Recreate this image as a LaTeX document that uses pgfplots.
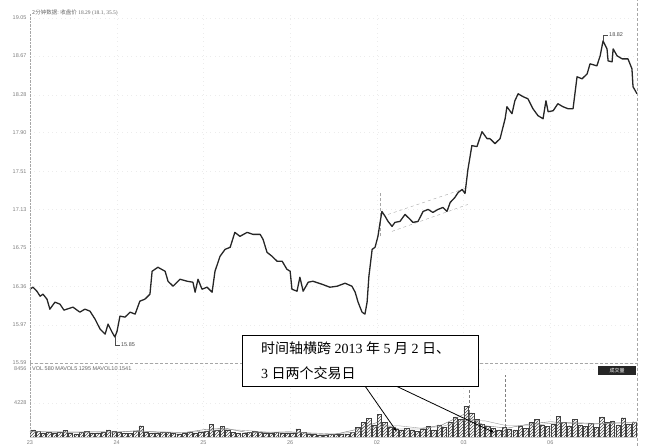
\documentclass[border=0pt]{standalone}
\usepackage{fontspec}
\setmainfont{Liberation Serif}
\setsansfont{Liberation Sans}
\newfontfamily\cjk{Noto Sans CJK SC}
\usepackage{pgfplots}
\pgfplotsset{compat=1.18}
\usetikzlibrary{arrows.meta,patterns}

% minute index (240 per trading day), price
\pgfplotstableread{
m price
0 16.33
8 16.35
19 16.31
28 16.26
36 16.28
47 16.23
55 16.13
69 16.20
83 16.18
94 16.12
102 16.13
119 16.15
138 16.10
152 16.13
166 16.11
180 16.03
194 15.93
208 15.88
216 15.98
227 15.90
235 15.85
241 15.91
249 16.06
263 16.05
277 16.10
291 16.08
304 16.21
318 16.23
332 16.28
338 16.51
346 16.53
354 16.55
374 16.51
382 16.41
396 16.36
415 16.43
435 16.41
451 16.40
457 16.30
465 16.43
476 16.33
490 16.35
504 16.30
512 16.51
526 16.66
540 16.73
554 16.75
567 16.90
581 16.86
601 16.90
617 16.88
637 16.88
645 16.83
656 16.70
670 16.66
684 16.61
698 16.61
711 16.53
720 16.51
725 16.33
739 16.31
747 16.45
756 16.31
770 16.40
783 16.41
808 16.38
830 16.35
850 16.36
872 16.39
891 16.36
900 16.30
908 16.20
919 16.10
927 16.08
933 16.20
938 16.46
947 16.73
955 16.75
963 16.86
969 17.00
974 17.11
983 17.06
991 17.01
1002 16.96
1010 17.00
1024 17.01
1038 17.08
1052 17.03
1060 17.00
1074 17.01
1088 17.11
1102 17.13
1115 17.10
1129 17.13
1143 17.15
1154 17.11
1163 17.20
1176 17.25
1185 17.30
1196 17.33
1204 17.29
1212 17.53
1223 17.77
1237 17.76
1251 17.91
1265 17.84
1273 17.84
1287 17.79
1301 17.84
1315 18.04
1320 18.16
1334 18.09
1342 18.22
1351 18.29
1365 18.26
1378 18.24
1392 18.14
1406 18.07
1420 18.04
1428 18.22
1434 18.11
1448 18.12
1461 18.19
1475 18.16
1489 18.14
1503 18.14
1514 18.46
1528 18.44
1542 18.49
1550 18.59
1569 18.57
1578 18.67
1586 18.82
1597 18.74
1600 18.62
1611 18.61
1614 18.74
1625 18.67
1639 18.64
1655 18.64
1666 18.54
1669 18.36
1680 18.29
}\pricedata

% volume per 15 minutes
\pgfplotstableread{
m vol
7 900
22 700
37 500
52 650
67 450
82 600
97 800
112 500
127 400
142 550
157 700
172 450
187 500
202 600
217 900
232 700
247 600
262 500
277 450
292 700
307 1400
322 600
337 500
352 450
367 550
382 650
397 500
412 400
427 450
442 600
457 500
472 550
487 700
502 1600
517 900
532 1300
547 800
562 600
577 500
592 450
607 550
622 700
637 600
652 500
667 450
682 600
697 500
712 450
727 500
742 1000
757 600
772 400
787 300
802 250
817 250
832 300
847 350
862 300
877 400
892 600
907 1200
922 1800
937 2300
952 1500
967 2800
982 1800
997 1200
1012 1000
1027 800
1042 1100
1057 900
1072 700
1087 1000
1102 1300
1117 900
1132 1500
1147 1200
1162 1800
1177 2500
1192 2200
1207 3800
1222 3000
1237 2200
1252 1600
1267 1300
1282 1100
1297 900
1312 1200
1327 1000
1342 900
1357 1400
1372 1100
1387 1800
1402 2200
1417 1500
1432 1300
1447 1600
1462 2600
1477 1800
1492 1400
1507 2200
1522 1500
1537 1300
1552 1700
1567 1200
1582 2500
1597 1800
1612 2000
1627 1500
1642 2400
1657 1600
1672 1900
}\voldata

\begin{document}
\begin{tikzpicture}
\path[use as bounding box] (0,0) rectangle (651pt,446pt);

% price panel
\begin{axis}[
  at={(30pt,83pt)}, anchor=south west, scale only axis,
  width=607pt, height=350pt,
  xmin=0, xmax=1680, ymin=15.59, ymax=19.10,
  xtick={240,480,...,1440}, xticklabels={},
  ytick={15.59,15.97,16.36,16.75,17.13,17.51,17.90,18.28,18.67,19.05},
  yticklabel style={font=\sffamily\fontsize{5.5}{6}\selectfont, text=gray,
    /pgf/number format/.cd, fixed, fixed zerofill, precision=2},
  /pgf/number format/assume math mode=true,
  grid=major, grid style={gray!15, loosely dotted},
  axis line style={draw=none}, tick style={draw=none},
  clip=false]
\addplot[gray!70, dashed, thin] coordinates {(991,17.08) (1212,17.35)};
\addplot[gray!70, dashed, thin] coordinates {(1002,16.91) (1212,17.18)};
\addplot[gray!70, densely dashed, thin] coordinates {(969,16.86) (969,17.30)};
\addplot[black!85, line width=1.3pt, line join=round] table[x=m, y=price] {\pricedata};
\draw[black!70, thin] (axis cs:1586,18.82) -- ++(0pt,6pt) -- ++(5pt,0pt)
  node[right, inner sep=1pt, font=\sffamily\fontsize{5.5}{6}\selectfont, text=black!70]{18.82};
\draw[black!70, thin] (axis cs:235,15.85) -- ++(0pt,-8pt) -- ++(5pt,0pt)
  node[right, inner sep=1pt, font=\sffamily\fontsize{5.5}{6}\selectfont, text=black!70]{15.85};
\end{axis}

% volume panel
\begin{axis}[
  at={(30pt,9pt)}, anchor=south west, scale only axis,
  width=607pt, height=74pt,
  xmin=0, xmax=1680, ymin=0, ymax=9204,
  xtick={0,240,...,1440}, xticklabels={23,24,25,26,02,03,06},
  xticklabel style={font=\sffamily\fontsize{5.5}{6}\selectfont, text=gray},
  ytick={4228,8456},
  yticklabel style={font=\sffamily\fontsize{5.5}{6}\selectfont, text=gray,
    /pgf/number format/.cd, 1000 sep={}},
  /pgf/number format/assume math mode=true,
  grid=major, grid style={gray!15, loosely dotted},
  axis line style={draw=none}, tick style={draw=none},
  clip=false]
\addplot[ybar, bar width=12, draw=black!75, line width=0.3pt,
  pattern=north east lines, pattern color=black!70] table[x=m, y=vol] {\voldata};
\addplot[black!55, thin] coordinates {
  (0,700) (60,600) (120,600) (180,650) (240,600) (300,800) (360,550) (420,500)
  (480,900) (540,1100) (600,550) (660,550) (720,650) (780,400) (840,300) (900,900)
  (960,1800) (1020,1000) (1080,1000) (1140,1500) (1200,2800) (1260,1400) (1320,1100)
  (1380,1600) (1440,1900) (1500,1700) (1560,1600) (1620,1800) (1680,1800)};
\addplot[black!40, thin] coordinates {
  (0,650) (60,650) (120,600) (180,620) (240,630) (300,700) (360,650) (420,560)
  (480,700) (540,950) (600,800) (660,600) (720,600) (780,500) (840,380) (900,600)
  (960,1300) (1020,1400) (1080,1100) (1140,1300) (1200,2100) (1260,2000) (1320,1400)
  (1380,1400) (1440,1700) (1500,1800) (1560,1700) (1620,1700) (1680,1800)};
\addplot[gray, densely dashed, thin] coordinates {(1215,500) (1215,5800)};
\addplot[gray, densely dashed, thin] coordinates {(1315,0) (1315,7700)};
\end{axis}

% frame lines
\draw[gray!70, densely dotted] (30pt,9pt) -- (30pt,433pt);
\draw[gray!70, densely dashed] (637pt,0pt) -- (637pt,446pt);
\draw[gray!70, densely dashed] (30pt,83pt) -- (637pt,83pt);
\draw[gray!40] (30pt,9pt) -- (637pt,9pt);

% header texts
\node[anchor=west, inner sep=0pt, text=black!60, font=\fontsize{5.5}{6}\selectfont]
  at (32pt,433pt) {{\cjk 2分钟数据: 收盘价} 18.29 (18.1, 35.5)};
\node[anchor=west, inner sep=0pt, text=black!60, font=\sffamily\fontsize{5.5}{6}\selectfont]
  at (32pt,77pt) {VOL 580  MAVOL5 1295  MAVOL10 1541};
\fill[black!85] (598pt,71pt) rectangle (636pt,80pt);
\node[text=white, inner sep=0pt, font=\fontsize{5}{5}\selectfont] at (617pt,75.5pt) {\cjk 成交量};

% annotation
\draw[black, line width=0.8pt, -{Latex[length=5pt,width=3pt]}] (365pt,60pt) -- (397pt,14pt);
\draw[black, line width=0.8pt, -{Latex[length=5pt,width=3pt]}] (396pt,60pt) -- (495pt,13pt);
\draw[black, line width=0.9pt, fill=white] (242pt,60pt) rectangle (478pt,111pt);
\node[anchor=west, inner sep=0pt, font=\fontsize{14}{16}\selectfont] at (261pt,98pt)
  {{\cjk 时间轴横跨} 2013 {\cjk 年} 5 {\cjk 月} 2 {\cjk 日、}};
\node[anchor=west, inner sep=0pt, font=\fontsize{14}{16}\selectfont] at (261pt,73pt)
  {3 {\cjk 日两个交易日}};
\end{tikzpicture}
\end{document}
